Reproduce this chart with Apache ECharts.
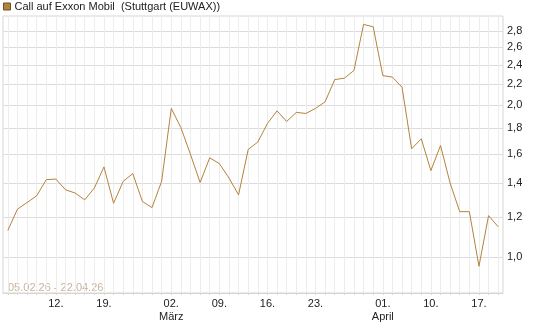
<!DOCTYPE html>
<html>
<head>
<meta charset="utf-8">
<script src="https://cdn.jsdelivr.net/npm/echarts@6/dist/echarts.min.js"></script>
<style>
  html, body { margin: 0; padding: 0; background: #fff; }
  #main { width: 545px; height: 327px; }
</style>
</head>
<body>
<div id="main"></div>
<script>
// Handelstage 05.02.26 - 21.04.26 (ohne Karfreitag / Ostermontag)
var dates = [
  '05.02', '06.02', '09.02', '10.02', '11.02', '12.02', '13.02', '16.02', '17.02', '18.02',
  '19.02', '20.02', '23.02', '24.02', '25.02', '26.02', '27.02', '02.03', '03.03', '04.03',
  '05.03', '06.03', '09.03', '10.03', '11.03', '12.03', '13.03', '16.03', '17.03', '18.03',
  '19.03', '20.03', '23.03', '24.03', '25.03', '26.03', '27.03', '30.03', '31.03', '01.04',
  '02.04', '07.04', '08.04', '09.04', '10.04', '13.04', '14.04', '15.04', '16.04', '17.04',
  '20.04', '21.04'
]
var prices = [
  1.13, 1.245, 1.283, 1.323, 1.424, 1.428, 1.36, 1.34, 1.299, 1.371,
  1.509, 1.279, 1.413, 1.464, 1.289, 1.254, 1.414, 1.97, 1.805, 1.597,
  1.406, 1.573, 1.532, 1.435, 1.329, 1.634, 1.69, 1.839, 1.948, 1.856,
  1.934, 1.925, 1.97, 2.03, 2.246, 2.26, 2.341, 2.887, 2.856, 2.287,
  2.271, 2.169, 1.639, 1.715, 1.484, 1.664, 1.402, 1.231, 1.231, 0.96,
  1.209, 1.149
]
// beschriftete Tage auf der x-Achse
var xLabels = {
  '12.02': '12.', '19.02': '19.', '02.03': '02.\nMärz', '09.03': '09.',
  '16.03': '16.', '23.03': '23.', '01.04': '01.\nApril', '10.04': '10.', '17.04': '17.'
}
var yTicks = [1.0, 1.2, 1.4, 1.6, 1.8, 2.0, 2.2, 2.4, 2.6, 2.8]
var seriesName = 'Call auf Exxon Mobil  (Stuttgart (EUWAX))'
var rangeText = '05.02.26 - 22.04.26'

var font = 'Liberation Sans, Arial, sans-serif'
var lineColor = '#b5823a'

var myChart = echarts.init(document.getElementById('main'))
myChart.setOption({
  animation: false,
  textStyle: { fontFamily: font },
  legend: {
    left: 0,
    top: 0,
    padding: [1, 3],
    icon: 'rect',
    itemWidth: 7,
    itemHeight: 7,
    itemGap: 4,
    itemStyle: { color: lineColor, borderColor: '#6a5030', borderWidth: 1 },
    textStyle: { fontSize: 11, color: '#222', fontFamily: font, padding: [0, 0, 0, -1] },
    data: [seriesName]
  },
  grid: {
    left: 3,
    right: 42,
    top: 16,
    bottom: 34,
    show: true,
    borderColor: '#d6d6d6',
    borderWidth: 1
  },
  // Zeitraum unten links
  graphic: [{
    type: 'text',
    left: 8,
    top: 282,
    style: { text: rangeText, fill: '#c8b49a', font: '11px ' + font }
  }],
  xAxis: {
    type: 'category',
    boundaryGap: true,
    data: dates,
    axisLine: { lineStyle: { color: '#d6d6d6' } },
    axisTick: { show: true, length: 2, interval: 0, alignWithLabel: true, lineStyle: { color: '#d6d6d6' } },
    splitLine: { show: true, interval: 0, alignWithLabel: true, lineStyle: { color: '#ececec', width: 1 } },
    axisLabel: {
      interval: 0,
      margin: 4,
      fontSize: 11,
      lineHeight: 13,
      color: '#222',
      formatter: function (v) { return xLabels[v] || '' }
    }
  },
  yAxis: {
    type: 'log',
    position: 'right',
    min: 0.85,
    max: 3.0,
    axisLine: { show: false },
    axisTick: { show: false, customValues: yTicks },
    splitLine: { show: true, lineStyle: { color: '#dcdcdc', width: 1 } },
    axisLabel: {
      customValues: yTicks,
      margin: 4,
      fontSize: 11,
      color: '#222',
      formatter: function (v) { return v.toFixed(1).replace('.', ',') }
    }
  },
  series: [{
    name: seriesName,
    type: 'line',
    data: prices,
    symbol: 'none',
    lineStyle: { color: lineColor, width: 1 },
    itemStyle: { color: lineColor }
  }]
})
</script>
</body>
</html>
